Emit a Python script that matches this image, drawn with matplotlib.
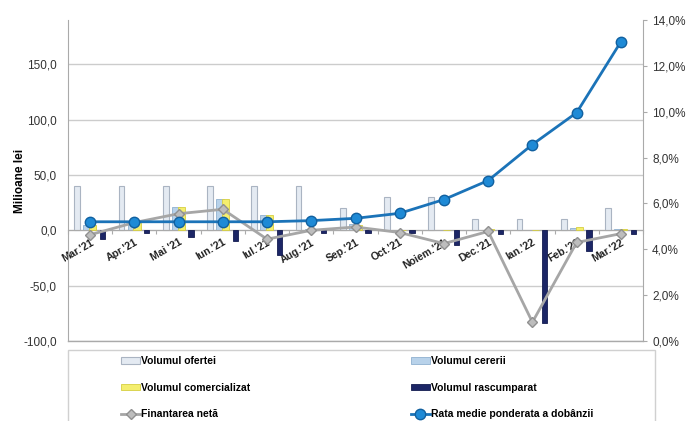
import numpy as np
import matplotlib
matplotlib.use('Agg')
import matplotlib.pyplot as plt
from matplotlib.patches import Rectangle
from matplotlib.ticker import FuncFormatter

plt.rcParams['font.family'] = ['Liberation Sans', 'DejaVu Sans']

months = ["Mar.'21", "Apr.'21", "Mai '21", "Iun.'21", "Iul.'21", "Aug.'21", "Sep.'21",
          "Oct.'21", "Noiem.'21", "Dec.'21", "Ian.'22", "Feb.'22", "Mar.'22"]
oferta = [40, 40, 40, 40, 40, 40, 20, 30, 30, 10, 10, 10, 20]
cerere = [5, 8, 21, 28, 14, 1, 6, 0, 0, 0, 0, 2, 1]
comercializat = [5, 8, 21, 28, 14, 0, 5, 0, 0, 1, 0, 3, 1]
rascumparat = [-8, -2, -6, -10, -22, -2, -2, -2, -13, -3, -84, -19, -3]
finantare = [-4, 7, 15, 19, -8, 0, 3, -2, -12, -1, -83, -11, -3]
rata = [5.2, 5.2, 5.2, 5.2, 5.2, 5.25, 5.35, 5.57, 6.17, 7.0, 8.57, 9.96, 13.05]

x = np.arange(len(months))

fig = plt.figure(figsize=(7, 4.21), dpi=100)
ax = fig.add_axes([68/700, 1-341/421, (643-68)/700, (341-20)/421])

b1 = ax.bar(x-0.29, oferta, 0.13, color='#e4eaf2', edgecolor='#aab4c2', linewidth=0.8, zorder=2)
b2 = ax.bar(x-0.06, cerere, 0.18, color='#b8d2ea', edgecolor='#8fb0d0', linewidth=0.6, zorder=2)
b3 = ax.bar(x+0.06, comercializat, 0.16, color='#f4ee6e', edgecolor='#d6cf40', linewidth=0.6, zorder=3)
b4 = ax.bar(x+0.28, rascumparat, 0.12, color='#1c2666', edgecolor='#141c50', linewidth=0.6, zorder=3)
l1, = ax.plot(x, finantare, color='#a6a6a6', lw=2, marker='D', ms=5.5,
              mfc='#bdbdbd', mec='#909090', zorder=4)

ax.set_xlim(-0.45, 12.5)
ax.set_ylim(-100, 190)
ax.set_yticks([-100, -50, 0, 50, 100, 150])
ax.yaxis.set_major_formatter(FuncFormatter(lambda v, p: f"{v:.1f}".replace('.', ',')))
ax.grid(axis='y', color='#cccccc', lw=1, zorder=0)
ax.set_axisbelow(True)

# category axis drawn at zero
ax.spines['bottom'].set_position(('data', 0))
ax.spines['bottom'].set_color('#aaaaaa')
ax.axhline(-100, color='#aaaaaa', lw=1, clip_on=False, zorder=1)
ax.set_xticks(np.arange(-0.5, 13, 1))
ax.set_xticklabels([])
ax.set_xticks(x, minor=True)
ax.set_xticklabels(months, minor=True, rotation=30, ha='right', va='top',
                   rotation_mode='anchor', fontsize=7.5, fontweight='bold', color='#222222')
ax.tick_params(axis='x', which='major', length=3, color='#aaaaaa')
ax.tick_params(axis='x', which='minor', length=0, pad=5)
ax.tick_params(axis='y', length=0, labelsize=8.5, colors='#333333', pad=8)
ax.spines['left'].set_color('#aaaaaa')
ax.spines['top'].set_visible(False)
ax.spines['right'].set_visible(False)
ax.set_ylabel('Milioane lei', fontsize=8.5, fontweight='bold', labelpad=-2)

ax2 = ax.twinx()
l2, = ax2.plot(x, rata, color='#1b73b8', lw=2, marker='o', ms=7.5,
               mfc='#1e8ad6', mec='#11609f', zorder=5)
ax2.set_ylim(0, 14)
ax2.set_yticks(np.arange(0, 15, 2))
ax2.yaxis.set_major_formatter(FuncFormatter(lambda v, p: f"{v:.1f}".replace('.', ',') + '%'))
ax2.tick_params(axis='y', length=3, color='#aaaaaa', labelsize=8.5, colors='#333333')
ax2.spines['right'].set_color('#aaaaaa')
ax2.spines['top'].set_visible(False)
ax2.spines['left'].set_visible(False)
ax2.spines['bottom'].set_visible(False)

fig.patches.append(Rectangle((68/700, -0.05), (655-68)/700, 1-350/421+0.05,
                             transform=fig.transFigure, fill=False,
                             edgecolor='#d0d0d0', lw=1))
leg = fig.legend([b1, b3, l1, b2, b4, l2],
                 ['Volumul ofertei', 'Volumul comercializat', 'Finantarea netă',
                  'Volumul cererii', 'Volumul rascumparat', 'Rata medie ponderata a dobânzii'],
                 ncol=2, loc='upper left', bbox_to_anchor=(112/700, 1-347/421),
                 frameon=False, handlelength=1.8, handletextpad=0.1, columnspacing=15.4,
                 labelspacing=1.57, handleheight=0.6,
                 prop={'family': ['Liberation Sans Narrow', 'Liberation Sans'],
                       'weight': 'bold', 'size': 7.5})

fig.savefig('out.png', dpi=100)
